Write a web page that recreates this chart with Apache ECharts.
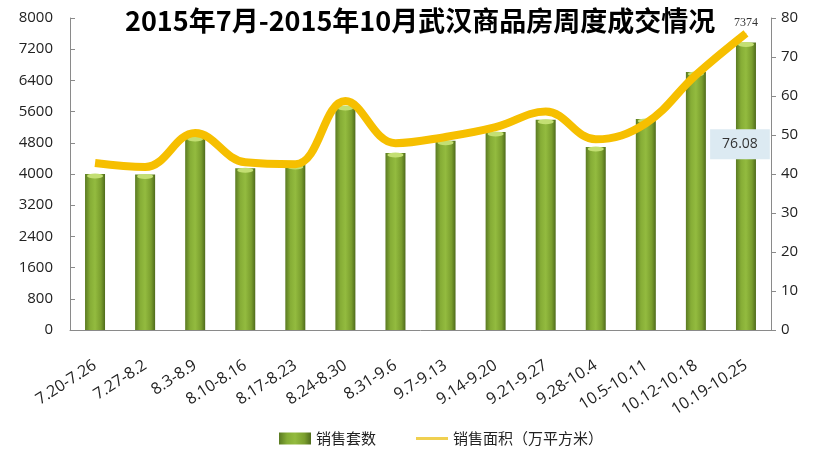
<!DOCTYPE html>
<html><head><meta charset="utf-8">
<script src="https://cdn.jsdelivr.net/npm/echarts@6/dist/echarts.min.js"></script>
<style>html,body{margin:0;padding:0;background:#fff}#c{width:819px;height:460px}</style>
</head><body><div id="c"></div>
<script>
var categories = ['7.20-7.26','7.27-8.2','8.3-8.9','8.10-8.16','8.17-8.23','8.24-8.30','8.31-9.6','9.7-9.13','9.14-9.20','9.21-9.27','9.28-10.4','10.5-10.11','10.12-10.18','10.19-10.25'];
var salesUnits = [4000, 3990, 4950, 4150, 4230, 5745, 4540, 4850, 5080, 5390, 4690, 5410, 6615, 7374];
var salesArea = [42.8, 41.8, 50.5, 43.0, 42.5, 58.7, 47.9, 49.5, 52.0, 56.0, 48.9, 53.0, 65.4, 76.08];
var leftTicks = [0, 800, 1600, 2400, 3200, 4000, 4800, 5600, 6400, 7200, 8000];
var rightTicks = [0, 10, 20, 30, 40, 50, 60, 70, 80];
var titleText = '2015年7月-2015年10月武汉商品房周度成交情况';
var legendNames = ['销售套数', '销售面积（万平方米）'];

var chart = echarts.init(document.getElementById('c'));
var font = '"Noto Sans CJK SC", "Noto Sans", sans-serif';
var numFont = '"Open Sans", "Noto Sans", sans-serif';
var barGrad = new echarts.graphic.LinearGradient(0,0,1,0,[
  {offset:0,color:'#5a7a22'},{offset:0.25,color:'#86ad36'},{offset:0.5,color:'#93bb3f'},
  {offset:0.8,color:'#7a9e2e'},{offset:1,color:'#4f6b1c'}]);
var lastIdx = salesArea.length - 1;
chart.setOption({
  animation:false,
  textStyle:{fontFamily:font},
  title:{text:titleText,left:120,top:2,
    textStyle:{fontSize:27,fontWeight:'bold',color:'#000',fontFamily:font}},
  legend:{data:[{name:legendNames[0],icon:'rect'},
                {name:legendNames[1],icon:'path://M0,0H32V3H0Z',itemStyle:{color:'#f0d050'}}],
    left:274,top:426,itemGap:40,
    itemWidth:32,itemHeight:12,textStyle:{fontSize:15,color:'#222'}},
  grid:{left:70,right:48,top:18,bottom:130},
  xAxis:{type:'category',data:categories,
    axisLine:{lineStyle:{color:'#8a8a8a'}},
    axisTick:{inside:true,length:6,lineStyle:{color:'#8a8a8a'}},
    axisLabel:{rotate:33,fontSize:16,color:'#222',margin:34,interval:0,fontFamily:numFont}},
  yAxis:[
    {type:'value',min:leftTicks[0],max:leftTicks[leftTicks.length-1],interval:leftTicks[1]-leftTicks[0],
     axisLine:{show:true,lineStyle:{color:'#8a8a8a'}},
     axisTick:{show:true,inside:true,length:5,lineStyle:{color:'#8a8a8a'}},
     splitLine:{show:false},
     axisLabel:{fontSize:15,color:'#222',margin:17,fontFamily:numFont,formatter:function(v){return String(v);}}},
    {type:'value',min:rightTicks[0],max:rightTicks[rightTicks.length-1],interval:rightTicks[1]-rightTicks[0],
     position:'right',
     axisLine:{show:true,lineStyle:{color:'#8a8a8a'}},
     axisTick:{show:true,length:5,lineStyle:{color:'#8a8a8a'}},
     splitLine:{show:false},
     axisLabel:{fontSize:15,color:'#222',margin:10,fontFamily:numFont}}
  ],
  series:[
    {name:legendNames[0],type:'bar',data:salesUnits.map(function(v,i){
        return i===lastIdx ? {value:v,label:{show:true,position:'top',distance:14,
          fontSize:12,color:'#333',fontFamily:'"Liberation Serif", serif'}} : v;}),
     barWidth:20,
     itemStyle:{color:barGrad},
     z:2},
    {name:'top',type:'pictorialBar',data:salesUnits,symbol:'circle',symbolSize:[16,5],
     symbolPosition:'end',symbolOffset:[0,'-10%'],barGap:'-100%',
     itemStyle:{color:'#c3df73'},z:3,silent:true,legendHoverLink:false},
    {name:legendNames[1],type:'line',yAxisIndex:1,data:salesArea.map(function(v,i){
        return i===lastIdx ? {value:v,symbol:'circle',symbolSize:1,label:{show:true,position:'inside',offset:[-6,111],
          formatter:function(p){return p.value.toFixed(2);},
          backgroundColor:'#dceaf2',padding:[8,12],fontSize:14,color:'#333',fontFamily:numFont}} : v;}),
     smooth:0.4,showSymbol:true,symbol:'none',
     lineStyle:{color:'#f6bf00',width:8},itemStyle:{color:'#f6bf00'},z:5}
  ]
});
</script></body></html>
